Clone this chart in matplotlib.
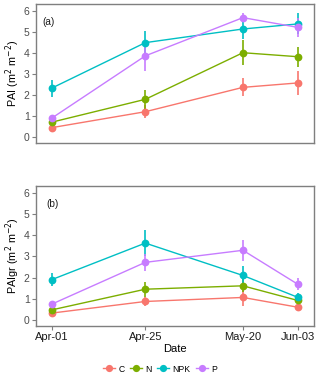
import matplotlib
matplotlib.use("Agg")
import matplotlib.pyplot as plt
from matplotlib.lines import Line2D
import numpy as np

plt.rcParams['font.family'] = ['Liberation Sans', 'DejaVu Sans']

dates = ["Apr-01", "Apr-25", "May-20", "Jun-03"]
days = [0, 24, 49, 63]
treatments = ["C", "N", "NPK", "P"]
colors = ["#F8766D", "#7CAE00", "#00BFC4", "#C77CFF"]

pai_mean = {
    "C":   [0.44, 1.20, 2.36, 2.57],
    "N":   [0.70, 1.79, 4.01, 3.82],
    "NPK": [2.32, 4.49, 5.14, 5.38],
    "P":   [0.89, 3.86, 5.68, 5.22],
}
pai_err = {
    "C":   [0.10, 0.30, 0.43, 0.57],
    "N":   [0.10, 0.45, 0.60, 0.48],
    "NPK": [0.41, 0.55, 0.50, 0.50],
    "P":   [0.10, 0.70, 0.20, 0.45],
}
paigr_mean = {
    "C":   [0.32, 0.87, 1.06, 0.60],
    "N":   [0.47, 1.45, 1.61, 0.92],
    "NPK": [1.90, 3.63, 2.10, 1.07],
    "P":   [0.74, 2.72, 3.29, 1.69],
}
paigr_err = {
    "C":   [0.10, 0.20, 0.40, 0.20],
    "N":   [0.10, 0.35, 0.30, 0.10],
    "NPK": [0.30, 0.60, 0.45, 0.20],
    "P":   [0.10, 0.40, 0.50, 0.30],
}

W, H = 320, 377
fig = plt.figure(figsize=(W/100, H/100), dpi=100)
ax1 = fig.add_axes([36/W, 1-143/H, 278/W, 139/H])
ax2 = fig.add_axes([36/W, 1-326/H, 278/W, 140/H])

def draw(ax, mean, err, ylabel, tag, tagx, show_x):
    for t, c in zip(treatments, colors):
        ax.errorbar(days, mean[t], yerr=err[t], color=c, ecolor=c, elinewidth=1.4,
                    capsize=0, alpha=0.85, lw=0, zorder=2)
        ax.plot(days, mean[t], color=c, lw=1.0, zorder=3)
        ax.plot(days, mean[t], 'o', color=c, ms=5.6, mec='none', zorder=4)
    ax.set_xlim(-4, 67.2)
    ax.set_ylim(-0.29, 6.33)
    ax.set_yticks(range(0, 7))
    ax.set_xticks(days)
    for s in ax.spines.values():
        s.set_color('#7f7f7f')
        s.set_linewidth(1.0)
    ax.tick_params(colors='#7f7f7f', labelcolor='#4d4d4d', labelsize=7.5, length=3,
                   width=0.8, pad=1.5)
    if show_x:
        ax.set_xticklabels(dates, fontsize=8, color='#1a1a1a')
        ax.set_xlabel("Date", fontsize=8, labelpad=1)
    else:
        ax.set_xticklabels([])
        ax.tick_params(axis='x', length=0)
    ax.set_ylabel(ylabel, fontsize=7.8)
    ax.yaxis.set_label_coords(-0.052, 0.5)
    ax.text(tagx, 0.87, tag, transform=ax.transAxes, fontsize=7.2, color='#1a1a1a',
            va='center')

draw(ax1, pai_mean, pai_err, "PAI (m$^2$ m$^{-2}$)", "(a)", 0.022, False)
draw(ax2, paigr_mean, paigr_err, "PAIgr (m$^2$ m$^{-2}$)", "(b)", 0.036, True)

handles = [Line2D([0], [0], color=c, lw=1.0, marker='o', ms=5.2, mec='none') for c in colors]
fig.legend(handles, treatments, loc='center', bbox_to_anchor=(0.5, 1-369/H), ncol=4,
           frameon=False, fontsize=6.2, handlelength=1.4, handletextpad=0.4,
           columnspacing=0.6)

fig.savefig("out.png", dpi=100)
